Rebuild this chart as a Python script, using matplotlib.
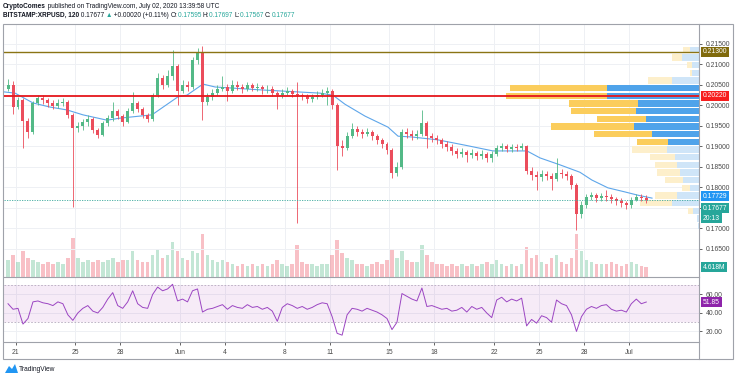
import numpy as np
import matplotlib.pyplot as plt
import matplotlib.transforms as mtransforms
from matplotlib.patches import Rectangle, Polygon
from matplotlib.lines import Line2D

plt.rcParams['font.family'] = ['Liberation Sans', 'DejaVu Sans']

# 8h candles, centre of candle k sits at day -0.5 + k/3 (day 0 = May 21)
first_open = 0.2040
closes = [
    0.2050, 0.1995, 0.2012, 0.1960, 0.1935, 0.2005, 0.2018, 0.2012, 0.2005, 0.1998,
    0.2005, 0.2008, 0.1975, 0.1945, 0.1948, 0.1958, 0.1965, 0.1940, 0.1928, 0.1955,
    0.1968, 0.1985, 0.1972, 0.1958, 0.1985, 0.2005, 0.1990, 0.1975, 0.1965, 0.2025,
    0.2065, 0.2050, 0.2070, 0.2095, 0.2035, 0.2050, 0.2045, 0.2110, 0.2128, 0.2007,
    0.2020, 0.2030, 0.2040, 0.2045, 0.2035, 0.2050, 0.2045, 0.2040, 0.2048, 0.2042,
    0.2045, 0.2038, 0.2040, 0.2030, 0.2025, 0.2030, 0.2035, 0.2028, 0.2025, 0.2022,
    0.2015, 0.2020, 0.2025, 0.2030, 0.2035, 0.2000, 0.1900, 0.1895, 0.1925, 0.1942,
    0.1935, 0.1930, 0.1935, 0.1925, 0.1915, 0.1905, 0.1890, 0.1835, 0.1850, 0.1935,
    0.1930, 0.1925, 0.1930, 0.1955, 0.1925, 0.1920, 0.1915, 0.1905, 0.1898, 0.1888,
    0.1880, 0.1885, 0.1878, 0.1882, 0.1876, 0.1880, 0.1870, 0.1880, 0.1895, 0.1900,
    0.1893, 0.1897, 0.1895, 0.1900, 0.1840, 0.1830, 0.1825, 0.1832, 0.1828, 0.1820,
    0.1835, 0.1832, 0.1828, 0.1805, 0.1735, 0.1755, 0.1775, 0.1780, 0.1772, 0.1778,
    0.1775, 0.1770, 0.1765, 0.1760, 0.1755, 0.1768, 0.1775, 0.1772, 0.17677,
]
highs = [
    0.2063, 0.2058, 0.2020, 0.2016, 0.1968, 0.2010, 0.2025, 0.2024, 0.2018, 0.2012,
    0.2014, 0.2016, 0.2012, 0.1980, 0.1958, 0.1966, 0.1975, 0.1970, 0.1945, 0.1960,
    0.1975, 0.2007, 0.1990, 0.1978, 0.1992, 0.2032, 0.2010, 0.1995, 0.1980, 0.2030,
    0.2078, 0.2072, 0.2085, 0.2134, 0.2100, 0.2062, 0.2058, 0.2118, 0.2138, 0.2144,
    0.2030, 0.2040, 0.2048, 0.2070, 0.2052, 0.2060, 0.2058, 0.2052, 0.2056, 0.2054,
    0.2053, 0.2050, 0.2048, 0.2046, 0.2035, 0.2038, 0.2044, 0.2040, 0.2056, 0.2030,
    0.2028, 0.2027, 0.2033, 0.2040, 0.2045, 0.2040, 0.2005, 0.1915, 0.1935, 0.1955,
    0.1950, 0.1942, 0.1945, 0.1940, 0.1930, 0.1920, 0.1910, 0.1895, 0.1860, 0.1942,
    0.1945, 0.1938, 0.1940, 0.1988, 0.1960, 0.1932, 0.1928, 0.1920, 0.1912, 0.1905,
    0.1895, 0.1895, 0.1890, 0.1892, 0.1888, 0.1890, 0.1885, 0.1888, 0.1902, 0.1907,
    0.1905, 0.1905, 0.1904, 0.1908, 0.1903, 0.1848, 0.1840, 0.1842, 0.1840, 0.1835,
    0.1871, 0.1845, 0.1840, 0.1832, 0.1810, 0.1765, 0.1782, 0.1788, 0.1785, 0.1786,
    0.1793, 0.1782, 0.1776, 0.1772, 0.1766, 0.1775, 0.1783, 0.1782, 0.1780,
]
lows = [
    0.2035, 0.1978, 0.1990, 0.1895, 0.1920, 0.1930, 0.2000, 0.2002, 0.1995, 0.1990,
    0.1992, 0.1998, 0.1968, 0.1751, 0.1935, 0.1940, 0.1950, 0.1932, 0.1920, 0.1924,
    0.1950, 0.1962, 0.1965, 0.1950, 0.1955, 0.1980, 0.1982, 0.1968, 0.1958, 0.1962,
    0.2020, 0.2040, 0.2045, 0.2060, 0.2000, 0.2030, 0.2035, 0.2040, 0.2100, 0.1963,
    0.2000, 0.2012, 0.2025, 0.2035, 0.2010, 0.2030, 0.2036, 0.2030, 0.2034, 0.2035,
    0.2035, 0.2028, 0.2030, 0.2022, 0.1990, 0.2018, 0.2025, 0.2020, 0.1712, 0.2012,
    0.2005, 0.2008, 0.2015, 0.2020, 0.2000, 0.1990, 0.1841, 0.1875, 0.1890, 0.1920,
    0.1925, 0.1920, 0.1925, 0.1915, 0.1905, 0.1895, 0.1880, 0.1822, 0.1828, 0.1845,
    0.1920, 0.1915, 0.1918, 0.1925, 0.1895, 0.1910, 0.1905, 0.1895, 0.1888, 0.1878,
    0.1870, 0.1872, 0.1860, 0.1870, 0.1866, 0.1868, 0.1860, 0.1862, 0.1875, 0.1888,
    0.1885, 0.1886, 0.1887, 0.1890, 0.1832, 0.1818, 0.1793, 0.1815, 0.1818, 0.1793,
    0.1815, 0.1822, 0.1818, 0.1795, 0.1695, 0.1725, 0.1748, 0.1768, 0.1764, 0.1766,
    0.1766, 0.1762, 0.1757, 0.1752, 0.1747, 0.1750, 0.1765, 0.1765, 0.1762,
]
volumes = [
    8, 10, 7, 12, 9, 8, 7, 6, 7, 6,
    7, 6, 9, 18, 9, 7, 8, 7, 8, 7,
    8, 9, 7, 8, 8, 12, 8, 7, 7, 10,
    13, 9, 10, 16, 12, 9, 8, 12, 11, 20,
    10, 8, 7, 8, 7, 6, 5, 6, 5, 6,
    5, 6, 5, 6, 8, 6, 5, 6, 15, 7,
    6, 6, 5, 6, 6, 10, 17, 11, 9, 8,
    6, 6, 5, 6, 7, 6, 8, 13, 9, 12,
    8, 7, 7, 15, 10, 7, 6, 6, 5, 6,
    5, 6, 5, 6, 5, 6, 7, 6, 8, 6,
    5, 6, 5, 6, 14, 9, 10, 7, 6, 9,
    10, 7, 6, 9, 20, 12, 8, 7, 6, 6,
    6, 7, 6, 5, 6, 7, 6, 5, 4.618,
]
rsi = [
    50, 44, 45, 28, 34, 52, 53, 51, 50, 48,
    52, 50, 38, 32, 40, 45, 48, 42, 40, 46,
    55, 62, 48, 45, 52, 64, 50, 46, 45, 60,
    68, 64, 66, 71, 53, 55, 52, 64, 66, 41,
    44, 45, 47, 49, 44, 48, 46, 45, 49, 46,
    47, 44, 46, 42, 31, 46, 50, 48, 45, 47,
    44, 46, 49, 51, 50, 36, 18, 16, 38, 45,
    44, 42, 45, 43, 41, 38, 34, 22, 30, 61,
    58, 55, 53, 67, 47, 48, 46, 44, 45, 42,
    43, 46, 41, 47, 44, 46, 40, 35, 54, 57,
    52, 55, 53, 56, 26, 33, 29, 37, 35, 30,
    54, 50, 48, 38, 20, 36, 44, 47, 45, 48,
    49, 44, 42, 43, 41, 50, 55, 50, 51.85,
]

# moving average (blue line), read at a few days
ma_days = [-0.77, -0.03, 1.17, 2.31, 3.44, 4.51, 6.12, 6.99, 9.12, 10.86, 11.46,
           12.53, 13.34, 16.34, 20.35, 21.22, 22.02, 23.36, 24.90, 25.57, 26.50,
           28.24, 30.05, 31.92, 34.19, 35.06, 36.40, 37.73, 38.53, 39.60, 40.74,
           41.61, 42.55]
ma_values = [0.2032, 0.2029, 0.2005, 0.1995, 0.1988, 0.1976, 0.1963, 0.1968, 0.1976,
             0.2020, 0.2024, 0.2051, 0.2044, 0.2037, 0.2029, 0.2024, 0.2002, 0.1973,
             0.1946, 0.1924, 0.1922, 0.1915, 0.1902, 0.1888, 0.1888, 0.1871, 0.1854,
             0.1836, 0.1817, 0.1798, 0.1788, 0.1780, 0.17729]

# volume profile, 24 rows from bottom
vp_low, vp_high = 0.1695, 0.2144
vp_up = [1, 2, 6, 27, 22, 9, 16, 19, 22, 24, 32, 31, 47, 65, 53, 63, 61, 92, 92, 27, 7, 7, 17, 9]
vp_down = [0, 0, 5, 32, 22, 8, 18, 23, 22, 25, 35, 31, 58, 83, 49, 65, 69, 101, 97, 24, 2, 5, 10, 7]
value_area = (11, 18)

resistance = 0.2130
support = 0.2022
last_price = 0.17677
ma_last = 0.17729

day_ticks = [0, 4, 7, 11, 14, 18, 21, 25, 28, 32, 35, 38, 41]
day_labels = ['21', '25', '28', 'Jun', '4', '8', '11', '15', '18', '22', '25', '28', 'Jul']
price_ticks = [0.165, 0.170, 0.175, 0.180, 0.185, 0.190, 0.195, 0.200, 0.205, 0.210, 0.215]
hidden_ticks = [0.175]   # covered by the last-price boxes
rsi_ticks = [20, 40, 60]

# ---------------------------------------------------------------
W, H = 736, 379
fig = plt.figure(figsize=(W / 100, H / 100), dpi=100)
fig.patch.set_facecolor('white')

def fx(px):
    return px / W

def fy(py):
    return 1 - py / H

L, R = 4, 699
TOP, MAIN_B, RSI_B, BOT = 24, 277, 342, 359
up_col, dn_col = '#53b987', '#eb4d5c'
grid_col = '#eef0f4'
frame_col = '#9fa2aa'
txt_col = '#4a4a4a'
FS = 4.9

ax = fig.add_axes([fx(L), fy(MAIN_B), fx(R - L), (MAIN_B - TOP) / H])
ax_vol = ax.twinx()
ax_vp = ax.twiny()
ax_rsi = fig.add_axes([fx(L), fy(RSI_B), fx(R - L), (RSI_B - MAIN_B) / H], sharex=ax)

ax_vol.set_zorder(0)
ax_vp.set_zorder(1)
ax.set_zorder(2)
ax_vol.patch.set_visible(True)
ax_vol.patch.set_facecolor('white')
ax.patch.set_visible(False)
ax_vp.patch.set_visible(False)

opens = np.r_[first_open, closes[:-1]]
closes = np.array(closes)
n = len(closes)
t = -0.5 + np.arange(n) / 3
rising = closes >= opens
colors = np.where(rising, up_col, dn_col)

# grid (bottom layer)
for d in day_ticks:
    ax_vol.axvline(d, color=grid_col, lw=0.7, zorder=0)
    ax_rsi.axvline(d, color=grid_col, lw=0.7, zorder=0)
for p in price_ticks:
    ax_vp.axhline(p, color=grid_col, lw=0.7, zorder=0)
for r in rsi_ticks:
    ax_rsi.axhline(r, color=grid_col, lw=0.7, zorder=0)

# volume bars
ax_vol.bar(t, volumes, width=0.24, color=colors, alpha=0.35, linewidth=0, zorder=1)
ax_vol.set_ylim(0, 117)
ax_vol.set_yticks([])
ax_vol.tick_params(bottom=False, labelbottom=False)
for s in ax_vol.spines.values():
    s.set_visible(False)

# volume profile
row_h = (vp_high - vp_low) / len(vp_up)
centers = vp_low + (np.arange(len(vp_up)) + 0.5) * row_h
in_va = (np.arange(len(vp_up)) >= value_area[0]) & (np.arange(len(vp_up)) <= value_area[1])
blue_c = ['#4fa3ea' if v else '#cfe5f8' for v in in_va]
yell_c = ['#fbcd5c' if v else '#fdefcb' for v in in_va]
ax_vp.barh(centers, vp_up, height=row_h * 0.84, left=0, color=blue_c, linewidth=0, zorder=1)
ax_vp.barh(centers, vp_down, height=row_h * 0.84, left=vp_up, color=yell_c, linewidth=0, zorder=1)
max_total = max(u + d for u, d in zip(vp_up, vp_down))
ax_vp.set_xlim(max_total / 0.278, 0)
ax_vp.set_xticks([])
for s in ax_vp.spines.values():
    s.set_visible(False)

# candles
ax.vlines(t, lows, highs, colors=colors, lw=0.6, zorder=3)
body_bottom = np.minimum(opens, closes)
body_h = np.maximum(np.abs(closes - opens), 0.00012)
ax.bar(t, body_h, bottom=body_bottom, width=0.2, color=colors, linewidth=0, zorder=4)

ax.plot(ma_days, ma_values, color='#5ea6ea', lw=0.8, zorder=2.5)
ax.axhline(resistance, color='#8a7414', lw=1.0, zorder=5)
ax.axhline(support, color='#e5161b', lw=1.3, zorder=5)
ax.axhline(last_price, color='#3aa89c', lw=0.6, ls=(0, (1.5, 1.5)), zorder=5)

ax.set_xlim(-0.769, 45.69)
ax.set_ylim(0.15805, 0.21976)
ax.yaxis.tick_right()
ax.set_yticks(price_ticks)
ax.set_yticklabels(['' if p in hidden_ticks else f'{p:.5f}' for p in price_ticks])
ax.tick_params(axis='y', labelsize=FS, colors=txt_col, length=2.5, width=0.6, pad=2.5)
ax.tick_params(axis='x', length=0, labelbottom=False)
for s in ['top', 'left']:
    ax.spines[s].set_visible(False)
for s in ['right', 'bottom']:
    ax.spines[s].set_color(frame_col)
    ax.spines[s].set_linewidth(0.8)

# RSI pane
ax_rsi.axhspan(30, 70, color='#9c27b0', alpha=0.09, lw=0, zorder=0.5)
for lvl in (30, 70):
    ax_rsi.axhline(lvl, color='#b4a9bd', lw=0.6, ls=(0, (2, 2)), zorder=1)
ax_rsi.plot(t, rsi, color='#9b45c2', lw=0.7, zorder=3)
ax_rsi.set_ylim(8.6, 78.9)
ax_rsi.yaxis.tick_right()
ax_rsi.set_yticks(rsi_ticks)
ax_rsi.set_yticklabels([f'{r:.2f}' for r in rsi_ticks])
ax_rsi.set_xticks(day_ticks)
ax_rsi.set_xticklabels(day_labels)
ax_rsi.tick_params(axis='y', labelsize=FS, colors=txt_col, length=2.5, width=0.6, pad=2.5)
ax_rsi.tick_params(axis='x', labelsize=FS, colors=txt_col, length=2, width=0.6, pad=3)
for s in ['top', 'left']:
    ax_rsi.spines[s].set_visible(False)
for s in ['right', 'bottom']:
    ax_rsi.spines[s].set_color(frame_col)
    ax_rsi.spines[s].set_linewidth(0.8)

# right-axis value boxes
def value_box(axis, y, text, color, dy=0.0):
    tr = mtransforms.blended_transform_factory(axis.transAxes, axis.transData)
    tr = mtransforms.offset_copy(tr, fig=fig, x=4, y=dy, units='dots')
    axis.text(1, y, text, transform=tr, ha='left', va='center', fontsize=FS,
              color='white', zorder=10, clip_on=False,
              bbox=dict(boxstyle='square,pad=0.25', fc=color, ec='none'))

value_box(ax, resistance, f'{resistance:.5f}', '#806a0c')
value_box(ax, support, f'{support:.5f}', '#f71e1e')
value_box(ax, ma_last, f'{ma_last:.5f}', '#2196f3', dy=2)
value_box(ax, last_price, f'{last_price:.5f}', '#26a69a', dy=-8)
value_box(ax, last_price, '20:13', '#26a69a', dy=-18)
value_box(ax_vol, volumes[-1], f'{volumes[-1]:.3f}M', '#26a69a')
value_box(ax_rsi, rsi[-1], f'{rsi[-1]:.2f}', '#8e24aa')

# outer frame
fig.add_artist(Rectangle((fx(3), fy(BOT)), fx(733 - 3), (BOT - TOP) / H, transform=fig.transFigure,
                         fill=False, ec=frame_col, lw=0.8))
fig.add_artist(Line2D([fx(R), fx(R)], [fy(RSI_B), fy(BOT)], transform=fig.transFigure,
                      color=frame_col, lw=0.8))

# header
renderer = fig.canvas.get_renderer()

def text_run(x_px, y_px, pieces, size):
    for s, color, weight in pieces:
        tx = fig.text(fx(x_px), fy(y_px), s, fontsize=size, color=color,
                      fontweight=weight, va='center', ha='left')
        x_px += tx.get_window_extent(renderer).width

dark = '#131722'
teal = '#26a69a'
text_run(3, 6, [('CryptoComes', dark, 'bold'),
                (' published on TradingView.com, July 02, 2020 13:39:58 UTC', dark, 'normal')], 4.7)
text_run(3, 15.5, [('BITSTAMP:XRPUSD, 120', dark, 'bold'),
                   (' 0.17677 ', dark, 'normal'), ('▲', teal, 'normal'),
                   (' +0.00020 (+0.11%) ', dark, 'normal'),
                   ('O:', dark, 'normal'), ('0.17595 ', teal, 'normal'),
                   ('H:', dark, 'normal'), ('0.17697 ', teal, 'normal'),
                   ('L:', dark, 'normal'), ('0.17567 ', teal, 'normal'),
                   ('C:', dark, 'normal'), ('0.17677', teal, 'normal')], 4.7)

# footer logo
logo = [(5, 373), (9, 366), (12, 369), (15, 364), (18, 373)]
fig.add_artist(Polygon([(fx(x), fy(y)) for x, y in logo], closed=True,
                       transform=fig.transFigure, fc='#2196f3', ec='none'))
fig.text(fx(19), fy(369.5), 'TradingView', fontsize=4.8, color=dark, va='center', ha='left')

fig.savefig('out.png', dpi=100)
